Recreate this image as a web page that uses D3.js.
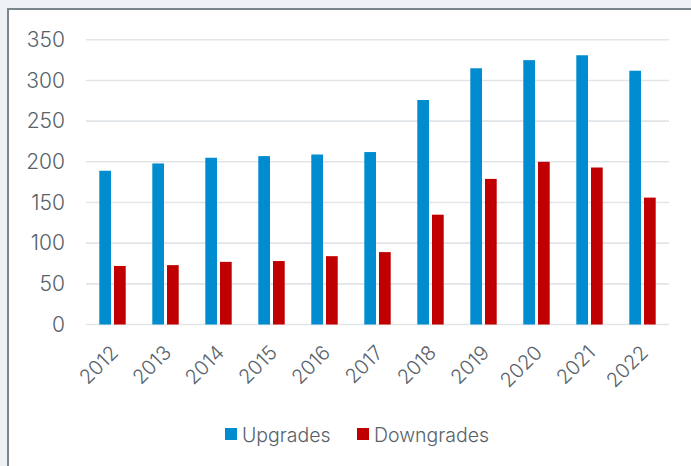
<!DOCTYPE html>
<html>
<head>
<meta charset="utf-8">
<script src="https://cdn.jsdelivr.net/npm/d3@7"></script>
<style>
  html, body { margin: 0; padding: 0; background: #eef2f4; }
  svg { display: block; }
  text { font-family: Inter, "Open Sans", "Liberation Sans", sans-serif; fill: #58626a; font-weight: 300; }
</style>
</head>
<body>
<svg id="chart" width="691" height="466"></svg>
<script>
// Rating actions per year
const years = ["2012", "2013", "2014", "2015", "2016", "2017", "2018", "2019", "2020", "2021", "2022"];
const upgrades = [189, 198, 205, 207, 209, 212, 276, 315, 325, 331, 312];
const downgrades = [72, 73, 77, 78, 84, 89, 135, 179, 200, 193, 156];
const yTicks = [0, 50, 100, 150, 200, 250, 300, 350];
const seriesNames = ["Upgrades", "Downgrades"];
const seriesColors = ["#008ccf", "#c00000"];

const svg = d3.select("#chart");

// White card with a dark edge on the left and top
svg.append("rect")
  .attr("x", 8).attr("y", 9).attr("width", 700).attr("height", 470)
  .attr("fill", "#ffffff")
  .attr("stroke", "#7b858c").attr("stroke-width", 2);

const x0 = d3.scaleBand().domain(years).range([86, 669]);
const x1 = d3.scaleBand().domain(seriesNames)
  .range([13.3, 39.7]).paddingInner(0.204);
const y = d3.scaleLinear().domain([0, 350]).range([324.5, 39.8]);

// Horizontal gridlines
svg.append("g")
  .selectAll("line")
  .data(yTicks)
  .join("line")
  .attr("x1", 86).attr("x2", 669)
  .attr("y1", d => y(d)).attr("y2", d => y(d))
  .attr("stroke", "#e1e5e8").attr("stroke-width", 1.6);

// Y axis labels
const yAxis = d3.axisLeft(y).tickValues(yTicks).tickSize(0).tickPadding(0);
const yg = svg.append("g").attr("transform", "translate(65,0)").call(yAxis);
yg.select(".domain").remove();
yg.selectAll("text")
  .attr("font-size", 21)
  .attr("fill", "#58626a")
  .style("font-family", "Inter, 'Open Sans', 'Liberation Sans', sans-serif");

// Bars
const table = years.map((yr, i) => ({ year: yr, values: [upgrades[i], downgrades[i]] }));
const groups = svg.append("g")
  .selectAll("g")
  .data(table)
  .join("g")
  .attr("transform", d => `translate(${x0(d.year)},0)`);

groups.selectAll("rect")
  .data(d => d.values.map((v, k) => ({ key: seriesNames[k], value: v, color: seriesColors[k] })))
  .join("rect")
  .attr("x", d => x1(d.key))
  .attr("width", x1.bandwidth())
  .attr("y", d => y(d.value))
  .attr("height", d => y(0) - y(d.value))
  .attr("fill", d => d.color);

// X axis labels, rotated
const xAxis = d3.axisBottom(x0).tickSize(0).tickPadding(0);
const xg = svg.append("g").attr("transform", "translate(0,349)").call(xAxis);
xg.select(".domain").remove();
xg.selectAll("text")
  .attr("font-size", 20)
  .attr("fill", "#58626a")
  .style("font-family", "Inter, 'Open Sans', 'Liberation Sans', sans-serif")
  .attr("text-anchor", "end")
  .attr("dy", "0.35em")
  .attr("transform", "translate(2,0) rotate(-45)");

// Legend
const legendX = [225, 357];
const legend = svg.append("g")
  .selectAll("g")
  .data(seriesNames)
  .join("g")
  .attr("transform", (d, i) => `translate(${legendX[i]},428)`);
legend.append("rect")
  .attr("width", 12).attr("height", 12)
  .attr("fill", (d, i) => seriesColors[i]);
legend.append("text")
  .attr("x", 17).attr("y", 14)
  .attr("font-size", 19.5)
  .text(d => d);
</script>
</body>
</html>
